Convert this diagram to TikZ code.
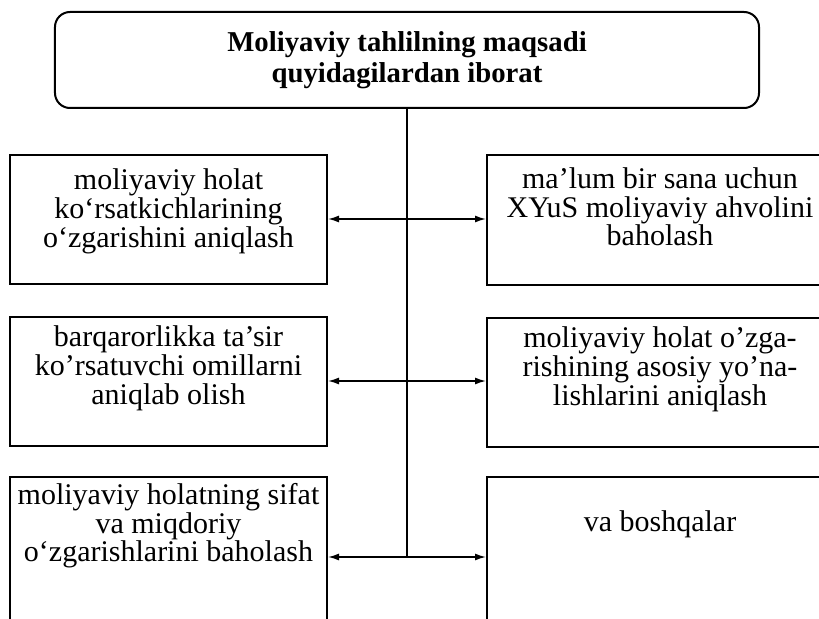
\documentclass[tikz,border=0pt]{standalone}
\usepackage{fontspec}
\setmainfont{Liberation Serif}
\usepackage{tikz}
\usetikzlibrary{arrows.meta,positioning,calc}
\newcommand{\goaltext}[4]{\parbox[c][#1][t]{#2}{\centering\vspace{#3}#4}}
\tikzset{
goaltitle/.style={draw, line width=0.8pt, rounded corners=6pt, align=center, font=\fontsize{11.5}{12.5}\selectfont\bfseries, minimum width=281.6pt, minimum height=38.4pt, inner sep=0pt},
goalbox/.style={draw, line width=0.8pt, inner sep=0pt},
goalarrow/.style={-{Latex[length=4.4pt,width=2.8pt]}, line width=0.6pt},
goaltrunk/.style={line width=0.8pt}
}
\begin{document}
\begin{tikzpicture}[font=\fontsize{12}{11.5}\selectfont, x=0.4pt, y=-0.4pt]
  \useasboundingbox (0,0) rectangle (819,619);
  \node[goaltitle] (title) at (407,60) {Moliyaviy tahlilning maqsadi\\quyidagilardan iborat};
  % left column
  \node[goalbox] (L1) at (168.5,219.5) {\goaltext{51.6pt}{126.8pt}{5.5pt}{moliyaviy holat\\ko‘rsatkichlarining\\o‘zgarishini aniqlash}};
  \node[goalbox] (L2) at (168.5,381.5) {\goaltext{51.6pt}{126.8pt}{3.5pt}{barqarorlikka ta’sir\\ko’rsatuvchi omillarni\\aniqlab olish}};
  \node[goalbox] (L3) at (168.5,558.5) {\goaltext{65.2pt}{126.8pt}{2.5pt}{moliyaviy holatning sifat\\va miqdoriy\\o‘zgarishlarini baholash}};
  % right column
  \node[goalbox] (R1) at (660,220) {\goaltext{52pt}{138.4pt}{5pt}{ma’lum bir sana uchun\\XYuS moliyaviy ahvolini\\baholash}};
  \node[goalbox] (R2) at (660,382.5) {\goaltext{51.6pt}{138.4pt}{3.5pt}{moliyaviy holat o’zga-\\rishining asosiy yo’na-\\lishlarini aniqlash}};
  \node[goalbox] (R3) at (660,558.5) {\goaltext{65.2pt}{138.4pt}{13.5pt}{va boshqalar}};
  \coordinate (j1) at (407,219);
  \coordinate (j2) at (407,381);
  \coordinate (j3) at (407,557);
  \draw[goaltrunk] (title.south) -- (j3);
  \foreach \r in {1,2,3} {
    \draw[goalarrow] (j\r) -- (j\r -| L\r.east);
    \draw[goalarrow] (j\r) -- (j\r -| R\r.west);
  }
\end{tikzpicture}
\end{document}
